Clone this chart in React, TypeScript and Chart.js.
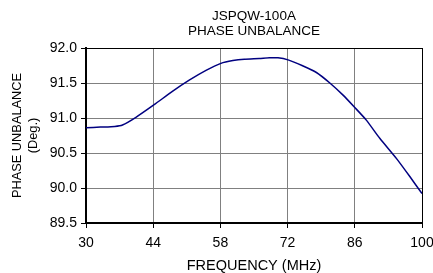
import React, { useEffect, useRef } from "react";
import { Chart, registerables } from "chart.js";

Chart.register(...registerables);

const titleLines = ["JSPQW-100A", "PHASE UNBALANCE"];
const xTitle = "FREQUENCY (MHz)";
const yTitle = ["PHASE UNBALANCE", "(Deg.)"];

const freq = [30, 33, 36, 37.6, 40.4, 44.2, 48, 51.5, 55, 58.1, 60.6, 63, 66.1, 68.2, 70, 72.1, 75, 78, 80.8, 83.5, 86, 88.4, 91.2, 94.7, 97.5, 100];
const phase = [90.86, 90.87, 90.88, 90.9, 91.01, 91.19, 91.38, 91.54, 91.68, 91.78, 91.82, 91.84, 91.85, 91.86, 91.86, 91.83, 91.75, 91.65, 91.5, 91.33, 91.15, 90.97, 90.71, 90.42, 90.16, 89.92];

const xMin = 30;
const xMax = 100;
const xStep = 14;
const yMin = 89.5;
const yMax = 92.0;
const yStep = 0.5;

const FONT = "'Liberation Sans', Arial, sans-serif";

const plotTitle = {
  id: "plotTitle",
  afterDraw(chart: any) {
    const { ctx, chartArea } = chart;
    const cx = (chartArea.left + chartArea.right) / 2;
    ctx.save();
    ctx.fillStyle = "#000";
    ctx.font = `13.5px ${FONT}`;
    ctx.textAlign = "center";
    ctx.textBaseline = "middle";
    const ys = [16.5, 31];
    titleLines.forEach((t, i) => ctx.fillText(t, cx, ys[i]));
    ctx.restore();
  },
};

export default function App() {
  const ref = useRef<HTMLCanvasElement | null>(null);

  useEffect(() => {
    if (!ref.current) return;
    const points = freq.map((f, i) => ({ x: f, y: phase[i] }));
    const chart = new Chart(ref.current, {
      type: "line",
      data: {
        datasets: [
          {
            data: points,
            borderColor: "#000080",
            borderWidth: 1.5,
            pointRadius: 0,
            tension: 0.2,
            fill: false,
          },
        ],
      },
      plugins: [plotTitle],
      options: {
        responsive: false,
        animation: false,
        layout: { padding: { left: 0, right: 0, top: 48, bottom: 0 } },
        plugins: {
          legend: { display: false },
          tooltip: { enabled: false },
          title: { display: false },
        },
        scales: {
          x: {
            type: "linear",
            min: xMin,
            max: xMax,
            afterFit: (s: any) => {
              s.height = 50;
              s.paddingRight = 11;
              s.paddingLeft = 0;
            },
            ticks: {
              stepSize: xStep,
              color: "#000",
              padding: 7,
              maxRotation: 0,
              font: { family: FONT, size: 14 },
            },
            grid: {
              color: (c: any) => (c.tick && c.tick.value === xMax ? "#000" : "#808080"),
              lineWidth: 1,
              tickLength: 5,
              tickColor: "#000",
            },
            border: { color: "#000", width: 2 },
            title: {
              display: true,
              text: xTitle,
              color: "#000",
              font: { family: FONT, size: 14.5, lineHeight: 1 },
              padding: { top: 0, bottom: 0 },
            },
          },
          y: {
            type: "linear",
            min: yMin,
            max: yMax,
            afterFit: (s: any) => {
              s.width = 86;
              s.paddingTop = 0;
              s.paddingBottom = 0;
            },
            ticks: {
              stepSize: yStep,
              color: "#000",
              padding: 4,
              font: { family: FONT, size: 14 },
              callback: (v: any) => Number(v).toFixed(1),
            },
            grid: {
              color: (c: any) => (c.tick && c.tick.value === yMax ? "#000" : "#808080"),
              lineWidth: 1,
              tickLength: 5,
              tickColor: "#000",
            },
            border: { color: "#000", width: 2 },
            title: {
              display: true,
              text: yTitle,
              color: "#000",
              font: { family: FONT, size: 12.8, lineHeight: 1.25 },
              padding: { top: 9.7, bottom: 0 },
            },
          },
        },
      },
    });
    return () => chart.destroy();
  }, []);

  return (
    <canvas
      ref={ref}
      width={433}
      height={273}
      style={{ position: "absolute", left: 0, top: 0, width: 433, height: 273 }}
    />
  );
}
